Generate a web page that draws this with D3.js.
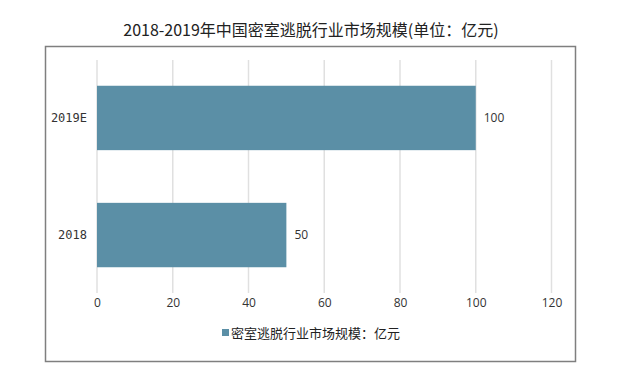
<!DOCTYPE html>
<html>
<head>
<meta charset="utf-8">
<script src="https://cdn.jsdelivr.net/npm/d3@7"></script>
<style>
body { margin: 0; background: #fff; }
</style>
</head>
<body>
<script>
// chart data
const categories = ["2019E", "2018"];
const values = [100, 50];
const xTicks = [0, 20, 40, 60, 80, 100, 120];
const titleText = "2018-2019年中国密室逃脱行业市场规模(单位：亿元)";
const legendText = "密室逃脱行业市场规模：亿元";

let svgWidth = 623;
let svgHeight = 372;

let svg = d3.select("body")
    .append("svg")
    .attr("width", svgWidth)
    .attr("height", svgHeight);

// outer frame
svg.append("rect")
    .attr("x", 45.5)
    .attr("y", 46.5)
    .attr("width", 530)
    .attr("height", 315)
    .attr("fill", "none")
    .attr("stroke", "#7f7f7f")
    .attr("stroke-width", 1.5);

svg.append("text")
    .attr("x", 311)
    .attr("y", 36)
    .attr("text-anchor", "middle")
    .style("font-family", "'Noto Sans CJK SC', 'DejaVu Sans Mono', sans-serif")
    .style("font-size", "16px")
    .attr("fill", "#222")
    .text(titleText);

let xScale = d3.scaleLinear()
    .domain([0, 120])
    .range([97, 551.5]);

let yScale = d3.scaleBand()
    .domain(categories)
    .range([60, 293])
    .paddingInner(0.45)
    .paddingOuter(0.22);

// gridlines
svg.append("g")
    .selectAll("line")
    .data(xTicks)
    .enter()
    .append("line")
    .attr("x1", d => xScale(d))
    .attr("x2", d => xScale(d))
    .attr("y1", 60)
    .attr("y2", 293)
    .attr("stroke", "#e0e0e0")
    .attr("stroke-width", 1.5);

// x axis labels
let bottomAxis = d3.axisBottom(xScale).tickValues(xTicks).tickSize(0).tickPadding(0);
let xg = svg.append("g")
    .attr("transform", "translate(0, 298)")
    .call(bottomAxis);
xg.select(".domain").remove();
xg.selectAll("text")
    .attr("dy", "0.71em")
    .style("font-family", "'Open Sans', 'DejaVu Sans', sans-serif")
    .style("font-size", "12px")
    .attr("fill", "#333");

// bars
svg.selectAll(".bar")
    .data(values)
    .enter()
    .append("rect")
    .attr("class", "bar")
    .attr("x", xScale(0))
    .attr("y", (d, i) => yScale(categories[i]))
    .attr("width", d => xScale(d) - xScale(0))
    .attr("height", yScale.bandwidth())
    .attr("fill", "#5b8fa6");

// value labels
svg.selectAll(".val")
    .data(values)
    .enter()
    .append("text")
    .attr("x", d => xScale(d) + 8)
    .attr("y", (d, i) => yScale(categories[i]) + yScale.bandwidth() / 2)
    .attr("dy", "0.35em")
    .style("font-family", "'Open Sans', 'DejaVu Sans', sans-serif")
    .style("font-size", "12px")
    .attr("fill", "#333")
    .text(d => d);

// y category labels
let leftAxis = d3.axisLeft(yScale).tickSize(0).tickPadding(0);
let yg = svg.append("g")
    .attr("transform", "translate(87, 0)")
    .call(leftAxis);
yg.select(".domain").remove();
yg.selectAll("text")
    .style("font-family", "'DejaVu Sans Mono', monospace")
    .style("font-size", "12px")
    .attr("fill", "#333");

// legend
svg.append("rect")
    .attr("x", 222)
    .attr("y", 329)
    .attr("width", 7)
    .attr("height", 7)
    .attr("fill", "#5b8fa6");

svg.append("text")
    .attr("x", 231)
    .attr("y", 333)
    .attr("dy", "0.35em")
    .style("font-family", "'Noto Sans CJK SC', sans-serif")
    .style("font-size", "13px")
    .attr("fill", "#222")
    .text(legendText);
</script>
</body>
</html>
